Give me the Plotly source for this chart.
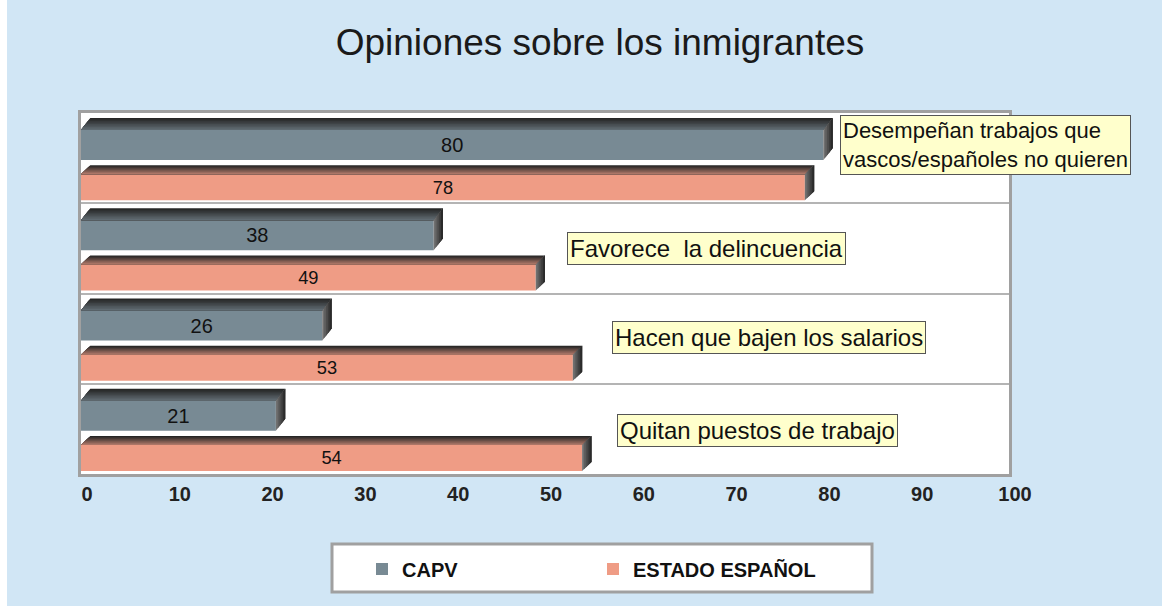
import plotly.graph_objects as go

# ---- data ----
categories = [
    "Desempeñan trabajos que<br>vascos/españoles no quieren",
    "Favorece\u00a0 la delincuencia",
    "Hacen que bajen los salarios",
    "Quitan puestos de trabajo",
]
capv = [80, 38, 26, 21]
estado = [78, 49, 53, 54]
series_names = ["CAPV", "ESTADO ESPAÑOL"]
title_text = "Opiniones sobre los inmigrantes"

# ---- style / layout constants ----
W, H = 1162, 606
L, R, T, B = 81, 1009, 113, 474
BG = "#d1e6f5"
C_CAPV = "#788a94"
C_ES = "#ef9c85"
FONT = "Liberation Sans, Arial, sans-serif"

# bar geometry within each group (fractions of a group, group i spans [i, i+1])
CAPV_BEV, CAPV_TOP, CAPV_BOT = 0.056, 0.189, 0.522
ES_BEV, ES_TOP, ES_BOT = 0.578, 0.678, 0.967
DX = 1.0  # depth offset in x units


def px_x(p):
    return (p - L) / (R - L)


def px_y(p):
    return (B - p) / (B - T)


n = len(categories)
y_capv = [i + (CAPV_TOP + CAPV_BOT) / 2 for i in range(n)]
y_es = [i + (ES_TOP + ES_BOT) / 2 for i in range(n)]

fig = go.Figure()
fig.add_trace(go.Bar(
    name=series_names[0], x=capv, y=y_capv, orientation="h",
    width=CAPV_BOT - CAPV_TOP, marker=dict(color=C_CAPV, line=dict(width=0)),
    text=capv, textposition="inside", insidetextanchor="middle",
    textfont=dict(family=FONT, size=20, color="#111"), textangle=0,
    hoverinfo="x",
))
fig.add_trace(go.Bar(
    name=series_names[1], x=estado, y=y_es, orientation="h",
    width=ES_BOT - ES_TOP, marker=dict(color=C_ES, line=dict(width=0)),
    text=estado, textposition="inside", insidetextanchor="middle",
    textfont=dict(family=FONT, size=20, color="#111"), textangle=0,
    hoverinfo="x",
))


def hexmix(c1, c2, t):
    a = [int(c1[k:k + 2], 16) for k in (1, 3, 5)]
    b = [int(c2[k:k + 2], 16) for k in (1, 3, 5)]
    m = [round(a[j] + (b[j] - a[j]) * t) for j in range(3)]
    return "#%02x%02x%02x" % tuple(m)


shapes = []


def bevel(v, y_bev, y_top, y_bot, face):
    bh = y_top - y_bev
    # top face: gradient dark (top) -> lighter (bottom); each layer covers
    # from its start down to the face, so there are no seams
    ns = 8
    bottom_col = hexmix(face, "#303030", 0.35)
    for k in range(ns):
        f0 = k / ns
        ya = y_bev + bh * f0
        xa = DX * (1 - f0)
        col = hexmix("#262626", bottom_col, k / (ns - 1))
        path = f"M{xa},{ya} L{v + xa},{ya} L{v},{y_top} L0,{y_top} Z"
        shapes.append(dict(type="path", path=path, xref="x", yref="y",
                           fillcolor=col, line=dict(width=0), layer="above"))
    # right side: gradient from mid gray to dark, left -> right
    ns2 = 5
    for k in range(ns2):
        t0 = k / ns2
        x0, x1 = v + DX * t0, v + DX
        yt0, yt1 = y_top - t0 * bh, y_bev
        yb0, yb1 = y_bot - t0 * bh, y_bot - bh
        col = hexmix("#707070", "#2a2a2a", k / (ns2 - 1))
        path = f"M{x0},{yt0} L{x1},{yt1} L{x1},{yb1} L{x0},{yb0} Z"
        shapes.append(dict(type="path", path=path, xref="x", yref="y",
                           fillcolor=col, line=dict(width=0), layer="above"))


for i in range(n):
    bevel(capv[i], i + CAPV_BEV, i + CAPV_TOP, i + CAPV_BOT, C_CAPV)
    bevel(estado[i], i + ES_BEV, i + ES_TOP, i + ES_BOT, C_ES)

# legend frame
shapes.append(dict(type="rect", xref="paper", yref="paper",
                   x0=px_x(332), x1=px_x(872), y0=px_y(592), y1=px_y(544),
                   fillcolor="white", line=dict(color="#a0a0a0", width=3),
                   layer="below"))
# thin white strip at the left edge
shapes.append(dict(type="rect", xref="paper", yref="paper",
                   x0=px_x(0), x1=px_x(7), y0=px_y(606), y1=px_y(0),
                   fillcolor="white", line=dict(width=0), layer="below"))

# category label boxes
label_pos = [(840, 145), (567, 248), (612, 337.5), (617, 430)]
label_size = [22, 24, 24, 24]
annotations = []
for txt, (lx, ly), fs in zip(categories, label_pos, label_size):
    annotations.append(dict(
        text=txt, xref="paper", yref="paper", x=px_x(lx), y=px_y(ly),
        xanchor="left", yanchor="middle", align="left", showarrow=False,
        font=dict(family=FONT, size=fs, color="#111"),
        bgcolor="#ffffcc", bordercolor="#555555", borderwidth=1, borderpad=2,
    ))

fig.update_layout(
    width=W, height=H,
    margin=dict(l=L, r=W - R, t=T, b=H - B, pad=0),
    paper_bgcolor=BG, plot_bgcolor="white",
    barmode="overlay",
    title=dict(text=title_text, x=600 / W, xref="container", xanchor="center",
               y=1 - 42 / H, yref="container", yanchor="middle",
               font=dict(family=FONT, size=37, color="#1a1a1a")),
    xaxis=dict(range=[0, 100], dtick=10, showgrid=False, zeroline=False,
               showline=True, mirror=True, linecolor="#a0a0a0", linewidth=3,
               ticks="", tickcolor="rgba(0,0,0,0)",
               tickfont=dict(family=FONT, size=20, color="#222", weight="bold"),
               ticklabelshift=6, fixedrange=True),
    yaxis=dict(range=[n, 0], tickvals=[1, 2, 3], showticklabels=False,
               showgrid=True, gridcolor="#b4b4b4", gridwidth=2, zeroline=False,
               showline=True, mirror=True, linecolor="#a0a0a0", linewidth=3,
               ticks="", fixedrange=True),
    showlegend=True,
    legend=dict(orientation="h", x=px_x(362), xanchor="left",
                y=px_y(569), yanchor="middle", bgcolor="rgba(0,0,0,0)",
                borderwidth=0, entrywidth=186, entrywidthmode="pixels",
                font=dict(family=FONT, size=20, color="#111", weight="bold"),
                traceorder="normal"),
    shapes=shapes, annotations=annotations,
)

fig.write_html("out.html", config={"displayModeBar": False},
               post_script="document.body.style.margin='0';")
